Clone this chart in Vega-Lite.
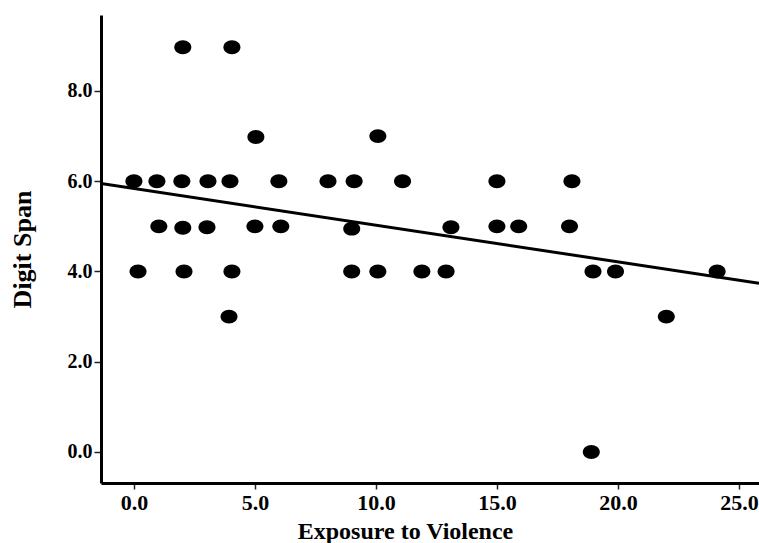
{
  "$schema": "https://vega.github.io/schema/vega-lite/v6.json",
  "width": 658,
  "height": 468,
  "autosize": {"type": "none"},
  "padding": {"left": 101, "top": 15, "right": 0, "bottom": 60},
  "background": "white",
  "config": {
    "view": {"stroke": null},
    "font": "Liberation Serif",
    "axis": {
      "grid": false,
      "domainColor": "black",
      "domainWidth": 3,
      "tickColor": "#222",
      "tickWidth": 1.5,
      "tickSize": 6,
      "labelFont": "Liberation Serif",
      "labelFontWeight": "bold",
      "labelColor": "black",
      "titleFont": "Liberation Serif",
      "titleFontWeight": "bold",
      "titleColor": "black"
    }
  },
  "datasets": {
    "pts": [
      {"exposure": 0.0, "span": 6}, {"exposure": 0.95, "span": 6}, {"exposure": 1.98, "span": 6},
      {"exposure": 3.06, "span": 6}, {"exposure": 3.97, "span": 6}, {"exposure": 5.99, "span": 6},
      {"exposure": 8.02, "span": 6}, {"exposure": 9.1, "span": 6}, {"exposure": 11.1, "span": 6},
      {"exposure": 15.0, "span": 6}, {"exposure": 18.1, "span": 6},
      {"exposure": 2.02, "span": 8.97}, {"exposure": 4.05, "span": 8.97},
      {"exposure": 5.04, "span": 6.98}, {"exposure": 10.08, "span": 7.0},
      {"exposure": 1.03, "span": 5.0}, {"exposure": 2.02, "span": 4.97}, {"exposure": 3.02, "span": 4.98},
      {"exposure": 5.0, "span": 5.0}, {"exposure": 6.07, "span": 5.0}, {"exposure": 9.0, "span": 4.95},
      {"exposure": 13.1, "span": 4.98}, {"exposure": 15.0, "span": 5.0}, {"exposure": 15.9, "span": 5.0},
      {"exposure": 18.0, "span": 5.0},
      {"exposure": 0.17, "span": 4.0}, {"exposure": 2.07, "span": 4.0}, {"exposure": 4.05, "span": 4.0},
      {"exposure": 9.0, "span": 4.0}, {"exposure": 10.08, "span": 4.0}, {"exposure": 11.9, "span": 4.0},
      {"exposure": 12.9, "span": 4.0}, {"exposure": 18.97, "span": 4.0}, {"exposure": 19.9, "span": 4.0},
      {"exposure": 24.1, "span": 4.0},
      {"exposure": 3.93, "span": 3.0}, {"exposure": 22.0, "span": 3.0},
      {"exposure": 18.9, "span": 0.0}
    ],
    "fit": [
      {"exposure": -1.36, "span": 5.95},
      {"exposure": 25.83, "span": 3.74}
    ]
  },
  "layer": [
    {
      "data": {"name": "fit"},
      "mark": {"type": "line", "color": "black", "strokeWidth": 3, "clip": true},
      "encoding": {
        "x": {"field": "exposure", "type": "quantitative"},
        "y": {"field": "span", "type": "quantitative"}
      }
    },
    {
      "data": {"name": "pts"},
      "mark": {
        "type": "point",
        "shape": "M-1,0A1,0.82 0 1,0 1,0A1,0.82 0 1,0 -1,0Z",
        "filled": true,
        "color": "black",
        "opacity": 1,
        "size": 289
      },
      "encoding": {
        "x": {
          "field": "exposure",
          "type": "quantitative",
          "scale": {"domain": [-1.36, 25.83], "nice": false, "zero": false},
          "axis": {
            "values": [0, 5, 10, 15, 20, 25],
            "format": ".1f",
            "title": "Exposure to Violence",
            "titleFontSize": 24,
            "titleX": 304,
            "titleY": 55,
            "titleBaseline": "alphabetic",
            "labelFontSize": 22,
            "labelPadding": 3,
            "labelFlush": false,
            "labelOverlap": false
          }
        },
        "y": {
          "field": "span",
          "type": "quantitative",
          "scale": {"domain": [-0.687, 9.684], "nice": false, "zero": false},
          "axis": {
            "values": [0, 2, 4, 6, 8],
            "format": ".1f",
            "title": "Digit Span",
            "titleFontSize": 26,
            "titleAngle": -90,
            "titleX": -71,
            "titleY": 234,
            "titleAlign": "center",
            "titleBaseline": "alphabetic",
            "labelFontSize": 20,
            "tickSize": 7,
            "labelPadding": 2,
            "labelFlush": false,
            "labelOverlap": false
          }
        }
      }
    }
  ]
}
